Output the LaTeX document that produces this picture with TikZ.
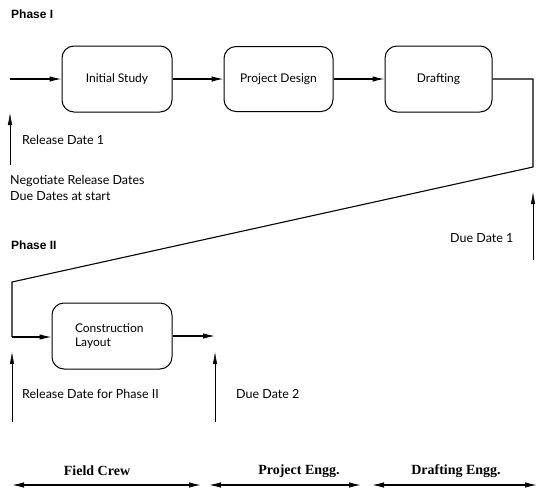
\documentclass[tikz,border=0pt]{standalone}
\usepackage{fontspec}
\setmainfont{Lato}
\newfontfamily\phasefont{Liberation Sans}
\newfontfamily\teamfont{Liberation Serif}
\usetikzlibrary{arrows.meta}
\begin{document}
\begin{tikzpicture}[x=1pt,y=-1pt,
  box/.style={draw, rounded corners=12pt, line width=1pt, align=left, font=\fontsize{12}{14}\selectfont},
  flow/.style={line width=1.1pt, -{Latex[length=12pt,width=5.5pt]}},
  datearrow/.style={line width=0.5pt, -{Latex[length=12pt,width=4.5pt]}},
  span/.style={line width=1.2pt, {Latex[length=12pt,width=5.5pt]}-{Latex[length=12pt,width=5.5pt]}},
  lbl/.style={anchor=west, inner sep=0pt, font=\fontsize{12.5}{16}\selectfont},
  phase/.style={anchor=west, inner sep=0pt, font=\phasefont\bfseries\fontsize{12}{14}\selectfont},
  team/.style={inner sep=0pt, font=\teamfont\bfseries\fontsize{14}{16}\selectfont}]
\useasboundingbox (0,0) rectangle (538,493);

% Phase I
\node[phase] (ph1) at (11,14) {Phase I};
\node[box, minimum width=110pt, minimum height=66pt] (is) at (117,79) {Initial Study};
\node[box, minimum width=109pt, minimum height=65pt] (pd) at (278.5,79) {Project Design};
\node[box, minimum width=107pt, minimum height=66pt] (dr) at (438.5,79) {Drafting};

\coordinate (s0) at (10,79);
\draw[flow] (s0) -- (is);
\draw[flow] (is) -- (pd);
\draw[flow] (pd) -- (dr);

\coordinate (c1) at (533,79);
\coordinate (c2) at (533,167);
\coordinate (c3) at (12,282);
\coordinate (c4) at (12,337);

\node[lbl] (rd1) at (22,140) {Release Date 1};
\node[lbl, align=left, anchor=north west] (neg) at (10,175) {Negotiate Release Dates\\Due Dates at start};
\node[lbl] (dd1) at (450,238) {Due Date 1};

\coordinate (r1b) at (10,165);
\coordinate (r1t) at (10,113);
\draw[datearrow] (r1b) -- (r1t);
\coordinate (d1b) at (533,260);
\coordinate (d1t) at (533,192);
\draw[datearrow] (d1b) -- (d1t);

% Phase II
\node[phase] (ph2) at (11,245) {Phase II};
\node[box, minimum width=120pt, minimum height=66pt, text width=74pt] (cl) at (112,336) {Construction\\Layout};

\draw[line width=1.1pt] (dr.east) -- (c1) -- (c2) -- (c3) -- (c4);
\draw[flow] (c4) -- (cl.west |- c4);
\coordinate (e2) at (215,336);
\draw[flow] (cl) -- (e2);

\coordinate (r2b) at (12,422);
\coordinate (r2t) at (12,352);
\draw[datearrow] (r2b) -- (r2t);
\coordinate (d2b) at (215,422);
\coordinate (d2t) at (215,352);
\draw[datearrow] (d2b) -- (d2t);

\node[lbl] (rd2) at (22,394) {Release Date for Phase II};
\node[lbl] (dd2) at (236,394) {Due Date 2};

% teams
\coordinate (fc1) at (12,485);
\coordinate (fc2) at (201,485);
\coordinate (pe1) at (209,485);
\coordinate (pe2) at (361,485);
\coordinate (de1) at (372,485);
\coordinate (de2) at (537,485);
\draw[span] (fc1) -- (fc2);
\draw[span] (pe1) -- (pe2);
\draw[span] (de1) -- (de2);
\node[team] (fc) at (97,471) {Field Crew};
\node[team] (pe) at (299,471) {Project Engg.};
\node[team] (de) at (456,471) {Drafting Engg.};
\end{tikzpicture}
\end{document}
